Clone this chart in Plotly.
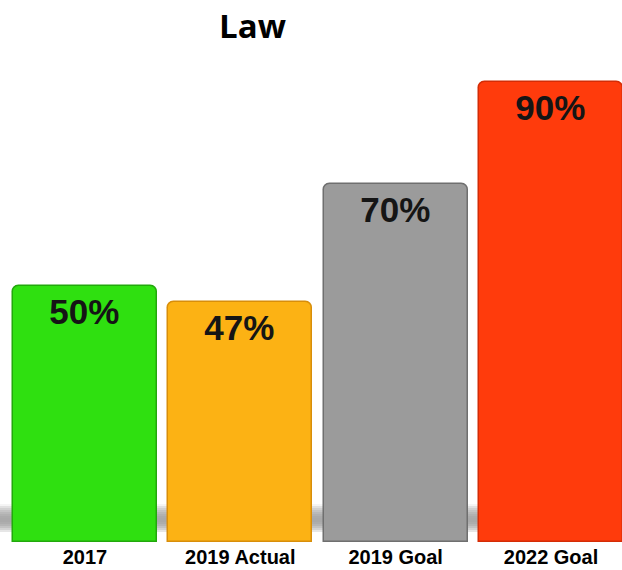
import plotly.graph_objects as go

# Law: share achieved vs. targets
categories = ["2017", "2019 Actual", "2019 Goal", "2022 Goal"]
values = [50, 47, 70, 90]
bar_colors = ["#2fe010", "#fcb214", "#9b9b9b", "#ff3b0c"]
edge_colors = ["#22a80c", "#d88e0a", "#6f6f6f", "#d42c06"]
value_labels = [f"{v}%" for v in values]

fig = go.Figure()

# soft floor shadow behind the bars, built from thin translucent strips
plot_h = 482  # plot area height in px
shapes = []
for k in range(24):
    off0 = k * 2            # px above the baseline
    off1 = off0 + 2
    mid = off0 + 1
    peak = 22.0
    spread = 13.0 if mid < peak else 16.0
    alpha = 0.34 * max(0.0, 1 - ((mid - peak) / spread) ** 2)
    if alpha <= 0:
        continue
    shapes.append(dict(type="rect", xref="paper", yref="paper", x0=-0.02, x1=1,
                       y0=off0 / plot_h, y1=off1 / plot_h,
                       fillcolor=f"rgba(0,0,0,{alpha:.3f})",
                       line_width=0, layer="below"))

fig.add_trace(go.Bar(
    x=categories,
    y=values,
    width=0.927,
    marker=dict(color=bar_colors, line=dict(color=edge_colors, width=1.5),
                cornerradius=7),
    text=value_labels,
    textposition="inside",
    insidetextanchor="end",
    textangle=0,
    textfont=dict(family="Liberation Sans, Arial, sans-serif", size=35,
                  color="#151515", weight="bold"),
    cliponaxis=False,
    hoverinfo="skip",
))

fig.update_layout(
    width=622,
    height=570,
    margin=dict(l=7, r=0, t=60, b=28),
    paper_bgcolor="white",
    plot_bgcolor="white",
    showlegend=False,
    shapes=shapes,
    title=dict(text="<b>Law</b>", x=252.5 / 622, xref="container",
               xanchor="center", y=1 - 26 / 570, yref="container", yanchor="middle",
               font=dict(family="Open Sans, sans-serif", size=33, color="#000000")),
    bargap=0,
    xaxis=dict(range=[-0.502, 3.457], showgrid=False, zeroline=False, showline=False,
               ticks="", ticklabelstandoff=1,
               tickfont=dict(family="Liberation Sans, Arial, sans-serif", size=20,
                             color="#000000", weight="bold")),
    yaxis=dict(range=[0, 94.3], visible=False, showgrid=False, zeroline=False),
)

fig.write_html("out.html")
